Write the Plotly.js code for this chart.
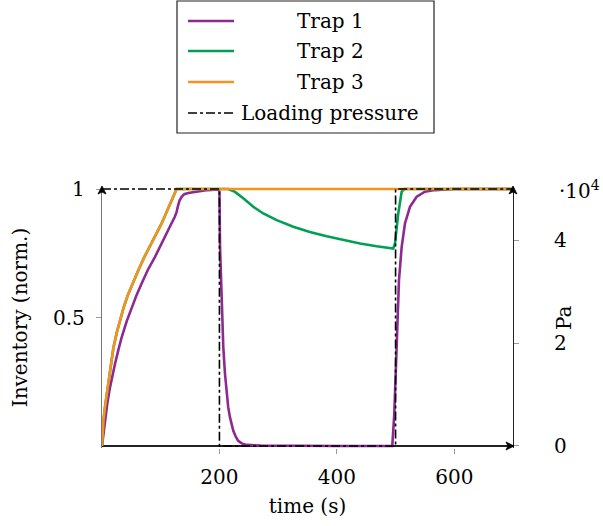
<!DOCTYPE html>
<html>
<head>
<meta charset="utf-8">
<script src="https://cdn.plot.ly/plotly-3.0.1.min.js"></script>
<style>html,body{margin:0;padding:0;background:#fff;}#chart{width:603px;height:526px;}</style>
</head>
<body>
<div id="chart"></div>
<script>
// ---- data ----
const trap1T = [0, 2, 5, 9, 13.6, 18, 22.1, 28, 33.5, 42, 50.5, 59, 67.5, 78, 90.3, 100, 110, 117, 124, 127, 129, 132, 135.7, 140, 147, 164, 180, 198, 200, 201, 203.9, 206.6, 209.5, 212.4, 215, 218, 223.6, 228, 232, 238, 246, 270, 300, 400, 494.4, 497.8, 501.8, 505.8, 510.4, 516, 524.5, 536, 550, 567, 600, 700];
const trap1V = [0, 0.04, 0.098, 0.165, 0.228, 0.28, 0.319, 0.375, 0.423, 0.485, 0.540, 0.588, 0.632, 0.685, 0.736, 0.783, 0.827, 0.86, 0.892, 0.91, 0.931, 0.955, 0.970, 0.98, 0.985, 0.992, 0.996, 0.998, 0.99, 0.775, 0.514, 0.384, 0.28, 0.202, 0.15, 0.111, 0.059, 0.035, 0.02, 0.01, 0.004, 0.002, 0.001, 0, 0, 0.124, 0.384, 0.645, 0.775, 0.866, 0.931, 0.97, 0.99, 0.996, 1, 1];

const trap2T = [0, 1, 2.5, 5, 8, 11, 15, 19.3, 25, 30.7, 37, 44.8, 53, 61.9, 71, 81.7, 91, 101.6, 114, 127, 215, 226.5, 240.6, 257.7, 274.7, 297.5, 325.8, 354, 382.7, 411, 439.4, 467.8, 496, 499, 504.6, 510.4, 515, 700];
const trap2V = [0, 0.06, 0.1, 0.15, 0.2, 0.255, 0.32, 0.38, 0.44, 0.49, 0.54, 0.592, 0.64, 0.684, 0.73, 0.775, 0.82, 0.866, 0.93, 1, 1, 0.989, 0.964, 0.931, 0.905, 0.879, 0.853, 0.833, 0.816, 0.801, 0.788, 0.777, 0.768, 0.788, 0.905, 0.99, 1, 1];

const trap3T = [0, 1, 2.5, 5, 8, 11, 15, 19.3, 25, 30.7, 37, 44.8, 53, 61.9, 71, 81.7, 91, 101.6, 114, 127, 700];
const trap3V = [0, 0.06, 0.1, 0.15, 0.2, 0.255, 0.32, 0.38, 0.44, 0.49, 0.54, 0.592, 0.64, 0.684, 0.73, 0.775, 0.82, 0.866, 0.93, 1, 1];

const pressT = [0, 200, 200, 500, 500, 700];
const pressV = [5e4, 5e4, 0, 0, 5e4, 5e4];

const names = ["Trap 1", "Trap 2", "Trap 3", "Loading pressure"];
const colors = ["#8c2a92", "#00a052", "#f6921e", "#000000"];

const xTicks = [200, 400, 600];
const yTicks = [0.5, 1];
const yTickText = ["0.5", "1"];
const y2Ticks = [0, 2e4, 4e4];
const y2TickText = ["0", "2", "4"];

// ---- geometry helpers (pixels -> paper) ----
const W = 603, H = 526;
const L = 102, R = 513, T = 187, B = 448;
const px = x => (x - L) / (R - L);
const py = y => (B - y) / (B - T);

const FONT = "DejaVu Serif, serif";
const FS = 20;

const traces = [
  {x: trap1T, y: trap1V, name: names[0], mode: "lines", line: {color: colors[0], width: 2.6}, yaxis: "y"},
  {x: trap2T, y: trap2V, name: names[1], mode: "lines", line: {color: colors[1], width: 2.6}, yaxis: "y"},
  {x: trap3T, y: trap3V, name: names[2], mode: "lines", line: {color: colors[2], width: 2.6}, yaxis: "y"},
  {x: pressT, y: pressV, name: names[3], mode: "lines", line: {color: colors[3], width: 1.6, dash: "dashdot"}, yaxis: "y2"}
];

// legend drawn manually (centered text like the reference)
const legRows = [21, 51, 82, 113];
const shapes = [
  {type: "rect", xref: "paper", yref: "paper", x0: px(177), x1: px(434), y0: py(1), y1: py(133),
   line: {color: "#222", width: 1.2}, fillcolor: "rgba(0,0,0,0)"}
];
const annotations = [];
names.forEach((n, i) => {
  shapes.push({type: "line", xref: "paper", yref: "paper", x0: px(188), x1: px(234), y0: py(legRows[i]), y1: py(legRows[i]),
    line: {color: colors[i], width: i === 3 ? 1.6 : 2.6, dash: i === 3 ? "dashdot" : "solid"}});
  annotations.push({xref: "paper", yref: "paper", x: px(330), y: py(legRows[i]), text: n, showarrow: false,
    xanchor: "center", yanchor: "middle", font: {family: FONT, size: 20, color: "#000"}});
});

// axis arrowheads as small filled paths
function upArrow(xt, yt) {
  return {type: "path", xref: "paper", yref: "paper", fillcolor: "#000", line: {color: "#000", width: 0.8},
    path: `M ${px(xt)} ${py(yt)} L ${px(xt - 4)} ${py(yt + 8)} L ${px(xt)} ${py(yt + 6)} L ${px(xt + 4)} ${py(yt + 8)} Z`};
}
function rightArrow(xt, yt) {
  return {type: "path", xref: "paper", yref: "paper", fillcolor: "#000", line: {color: "#000", width: 0.8},
    path: `M ${px(xt)} ${py(yt)} L ${px(xt - 8)} ${py(yt - 4)} L ${px(xt - 6)} ${py(yt)} L ${px(xt - 8)} ${py(yt + 4)} Z`};
}
shapes.push(upArrow(L, 186));
shapes.push(upArrow(R, 186));
shapes.push(rightArrow(R + 1, 446));

// exponent label of right axis
annotations.push({xref: "paper", yref: "paper", x: px(557), y: py(190), text: "·10<sup>4</sup>", showarrow: false,
  xanchor: "left", yanchor: "middle", font: {family: FONT, size: FS, color: "#000"}});
// right axis title
annotations.push({xref: "paper", yref: "paper", x: px(564), y: py(318), text: "Pa", showarrow: false, textangle: -90,
  xanchor: "center", yanchor: "middle", font: {family: FONT, size: FS, color: "#000"}});

const layout = {
  width: W, height: H,
  margin: {l: L, r: W - R, t: T, b: H - B, pad: 0},
  paper_bgcolor: "#fff", plot_bgcolor: "#fff",
  showlegend: false,
  font: {family: FONT, size: FS, color: "#000"},
  xaxis: {
    range: [0, 700], tickvals: xTicks, showgrid: false, zeroline: false,
    showline: false,
    ticks: "outside", ticklen: 5, tickcolor: "#999", tickwidth: 1,
    ticklabelstandoff: 6,
    title: {text: "time (s)", font: {family: FONT, size: FS}, standoff: 10}
  },
  yaxis: {
    range: [-0.008, 1.008], tickvals: yTicks, ticktext: yTickText, showgrid: false,
    zeroline: true, zerolinecolor: "#222", zerolinewidth: 1.2,
    showline: true, linecolor: "#777", linewidth: 1.2,
    ticks: "outside", ticklen: 5, tickcolor: "#999", tickwidth: 1,
    ticklabelstandoff: 7,
    title: {text: "Inventory (norm.)", font: {family: FONT, size: FS}, standoff: 20}
  },
  yaxis2: {
    overlaying: "y", side: "right", range: [-400, 50400], tickvals: y2Ticks,
    ticktext: y2TickText.map(s => "\u00a0\u00a0" + s),
    showgrid: false, zeroline: false,
    showline: true, linecolor: "#222", linewidth: 1.2,
    ticks: "outside", ticklen: 5, tickcolor: "#999", tickwidth: 1,
    ticklabelstandoff: 18
  },
  shapes: shapes,
  annotations: annotations
};

Plotly.newPlot("chart", traces, layout, {staticPlot: true, displayModeBar: false});
</script>
</body>
</html>
